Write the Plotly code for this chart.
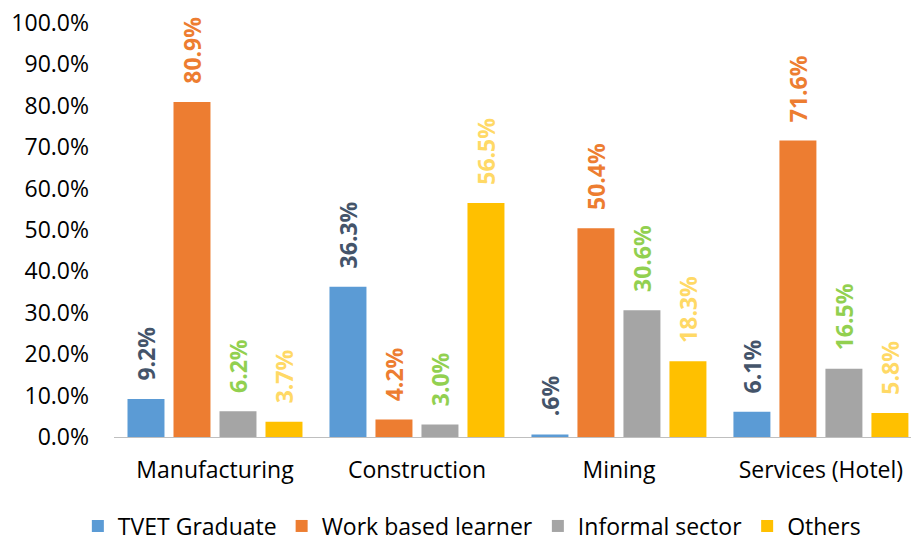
import plotly.graph_objects as go

categories = ["Manufacturing", "Construction", "Mining", "Services (Hotel)"]
series_names = ["TVET Graduate", "Work based learner", "Informal sector", "Others"]
tvet = [0.092, 0.363, 0.006, 0.061]
work_based = [0.809, 0.042, 0.504, 0.716]
informal = [0.062, 0.030, 0.306, 0.165]
others = [0.037, 0.565, 0.183, 0.058]
tvet_labels = ["9.2%", "36.3%", ".6%", "6.1%"]
work_labels = ["80.9%", "4.2%", "50.4%", "71.6%"]
informal_labels = ["6.2%", "3.0%", "30.6%", "16.5%"]
others_labels = ["3.7%", "56.5%", "18.3%", "5.8%"]
y_ticks = [0, 0.1, 0.2, 0.3, 0.4, 0.5, 0.6, 0.7, 0.8, 0.9, 1.0]
y_tick_labels = ["0.0%", "10.0%", "20.0%", "30.0%", "40.0%", "50.0%",
                 "60.0%", "70.0%", "80.0%", "90.0%", "100.0%"]

bar_colors = ["#5B9BD5", "#ED7D31", "#A5A5A5", "#FFC000"]
label_colors = ["#44546A", "#ED7D31", "#92D050", "#FFD966"]
FONT = "Open Sans"

fig = go.Figure()
for name, vals, labs, bc, lc in zip(series_names,
                                    [tvet, work_based, informal, others],
                                    [tvet_labels, work_labels, informal_labels, others_labels],
                                    bar_colors, label_colors):
    fig.add_trace(go.Bar(
        name=name, x=categories, y=vals,
        marker=dict(color=bc, line=dict(width=0)),
        text=["\u2002\u2009" + t for t in labs],
        textposition="outside", textangle=-90, constraintext="none",
        textfont=dict(family=FONT, size=23, color=lc, weight="bold"),
        cliponaxis=False,
    ))

fig.update_layout(
    width=911, height=541,
    margin=dict(l=114, r=0, t=23, b=104, autoexpand=False),
    paper_bgcolor="white", plot_bgcolor="white",
    barmode="group", bargap=0.089, bargroupgap=0.196,
    font=dict(family=FONT, size=23, color="#000000"),
    xaxis=dict(range=[-0.5, 3.446], showline=True, linecolor="#BFBFBF", linewidth=1,
               ticks="", showgrid=False, ticklabelstandoff=12,
               tickfont=dict(family=FONT, size=23, color="#000000")),
    yaxis=dict(range=[0, 1.0], tickvals=y_ticks, ticktext=y_tick_labels,
               showgrid=False, zeroline=False, showline=False, ticks="",
               ticklabelstandoff=24,
               tickfont=dict(family=FONT, size=23, color="#000000")),
    legend=dict(orientation="h", x=0.449, xanchor="center", y=-0.215, yanchor="middle",
                font=dict(family=FONT, size=23, color="#000000"),
                itemwidth=30, traceorder="normal"),
    showlegend=True,
)

fig.write_html("out.html", config={"displayModeBar": False},
               post_script="document.body.style.margin='0';")
